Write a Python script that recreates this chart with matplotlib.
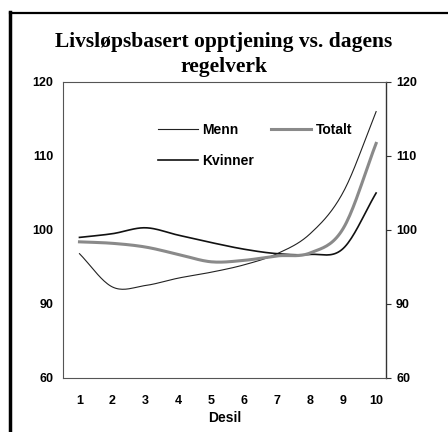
import numpy as np
import matplotlib
matplotlib.use("Agg")
import matplotlib.pyplot as plt
from matplotlib.lines import Line2D

# deciles and index values
desil = [1, 2, 3, 4, 5, 6, 7, 8, 9, 10]
menn = [96.8, 92.3, 92.5, 93.5, 94.3, 95.3, 96.8, 99.5, 105.1, 116.0]
kvinner = [99.0, 99.5, 100.3, 99.3, 98.3, 97.4, 96.8, 96.7, 97.5, 105.0]
totalt = [98.4, 98.2, 97.7, 96.7, 95.7, 95.9, 96.5, 96.9, 100.2, 111.7]

yticks = [80, 90, 100, 110, 120]
ytick_labels = ["60", "90", "100", "110", "120"]


def smooth(x, y, n=20):
    # Catmull-Rom, like Excel's smoothed line
    x = np.asarray(x, float)
    y = np.asarray(y, float)
    px = np.concatenate([[2 * x[0] - x[1]], x, [2 * x[-1] - x[-2]]])
    py = np.concatenate([[2 * y[0] - y[1]], y, [2 * y[-1] - y[-2]]])
    xs, ys = [], []
    t = np.linspace(0, 1, n, endpoint=False)
    for i in range(1, len(px) - 2):
        for p, out in ((px, xs), (py, ys)):
            p0, p1, p2, p3 = p[i - 1], p[i], p[i + 1], p[i + 2]
            out.extend(0.5 * (2 * p1 + (-p0 + p2) * t
                              + (2 * p0 - 5 * p1 + 4 * p2 - p3) * t ** 2
                              + (-p0 + 3 * p1 - 3 * p2 + p3) * t ** 3))
    xs.append(x[-1])
    ys.append(y[-1])
    return xs, ys


sans = ["Liberation Sans", "DejaVu Sans"]
plt.rcParams.update({
    "font.family": sans,
    "font.weight": "bold",
    "font.size": 9,
})

fig = plt.figure(figsize=(4.48, 4.32), dpi=100)
ax = fig.add_axes([63 / 448, 1 - 378 / 432, (386 - 63) / 448, (378 - 82) / 432])

ax.plot(*smooth(desil, menn), color="#222222", lw=0.8, label="Menn")
ax.plot(*smooth(desil, kvinner), color="#111111", lw=1.2, label="Kvinner")
ax.plot(*smooth(desil, totalt), color="#8a8a8a", lw=2.2, label="Totalt")

ax.set_xlim(0.5, 10.3)
ax.set_ylim(80, 120)
ax.set_xticks(desil)
ax.set_xticklabels([str(d) for d in desil], fontsize=9, fontweight="bold", family=sans)
ax.set_yticks(yticks)
ax.set_yticklabels(ytick_labels, fontsize=9, fontweight="bold", family=sans)
ax.tick_params(axis="x", length=0, pad=12)
ax.tick_params(axis="y", left=False, right=True, labelleft=True, labelright=True,
               length=3.5, width=0.8, color="#333333", direction="out", pad=3.7)
for t in ax.yaxis.get_major_ticks():
    t.label2.set_fontweight("bold")
    t.label2.set_family(sans)
    t.label2.set_fontsize(9)
ax.set_xlabel("Desil", fontsize=10, fontweight="bold", labelpad=3)

for side in ("left", "top", "bottom"):
    ax.spines[side].set_color("#555555")
    ax.spines[side].set_linewidth(0.8)
ax.spines["right"].set_color("#333333")
ax.spines["right"].set_linewidth(1.0)

handles, labels = ax.get_legend_handles_labels()
ax.legend(handles, labels, ncol=2, loc="upper left", frameon=False,
          bbox_to_anchor=(158 / 448, 1 - 122.5 / 432), bbox_transform=fig.transFigure,
          borderpad=0, borderaxespad=0, handlelength=2.9, handletextpad=0.3,
          columnspacing=1.2, labelspacing=1.25,
          prop={"weight": "bold", "size": 10})

serif = ["Liberation Serif", "DejaVu Serif"]
fig.text(0.5, 1 - 47 / 432, "Livsløpsbasert opptjening vs. dagens",
         ha="center", va="baseline", fontsize=15.5, fontweight="bold", family=serif)
fig.text(0.5, 1 - 72 / 432, "regelverk",
         ha="center", va="baseline", fontsize=15.5, fontweight="bold", family=serif)

# scanned page border
fig.add_artist(Line2D([10 / 448, 10 / 448], [0, 1 - 12 / 432], color="black",
                      lw=2.5, transform=fig.transFigure))
fig.add_artist(Line2D([10 / 448, 1], [1 - 12.5 / 432, 1 - 12.5 / 432], color="black",
                      lw=1.6, transform=fig.transFigure))

fig.savefig("out.png", dpi=100, facecolor="white")
